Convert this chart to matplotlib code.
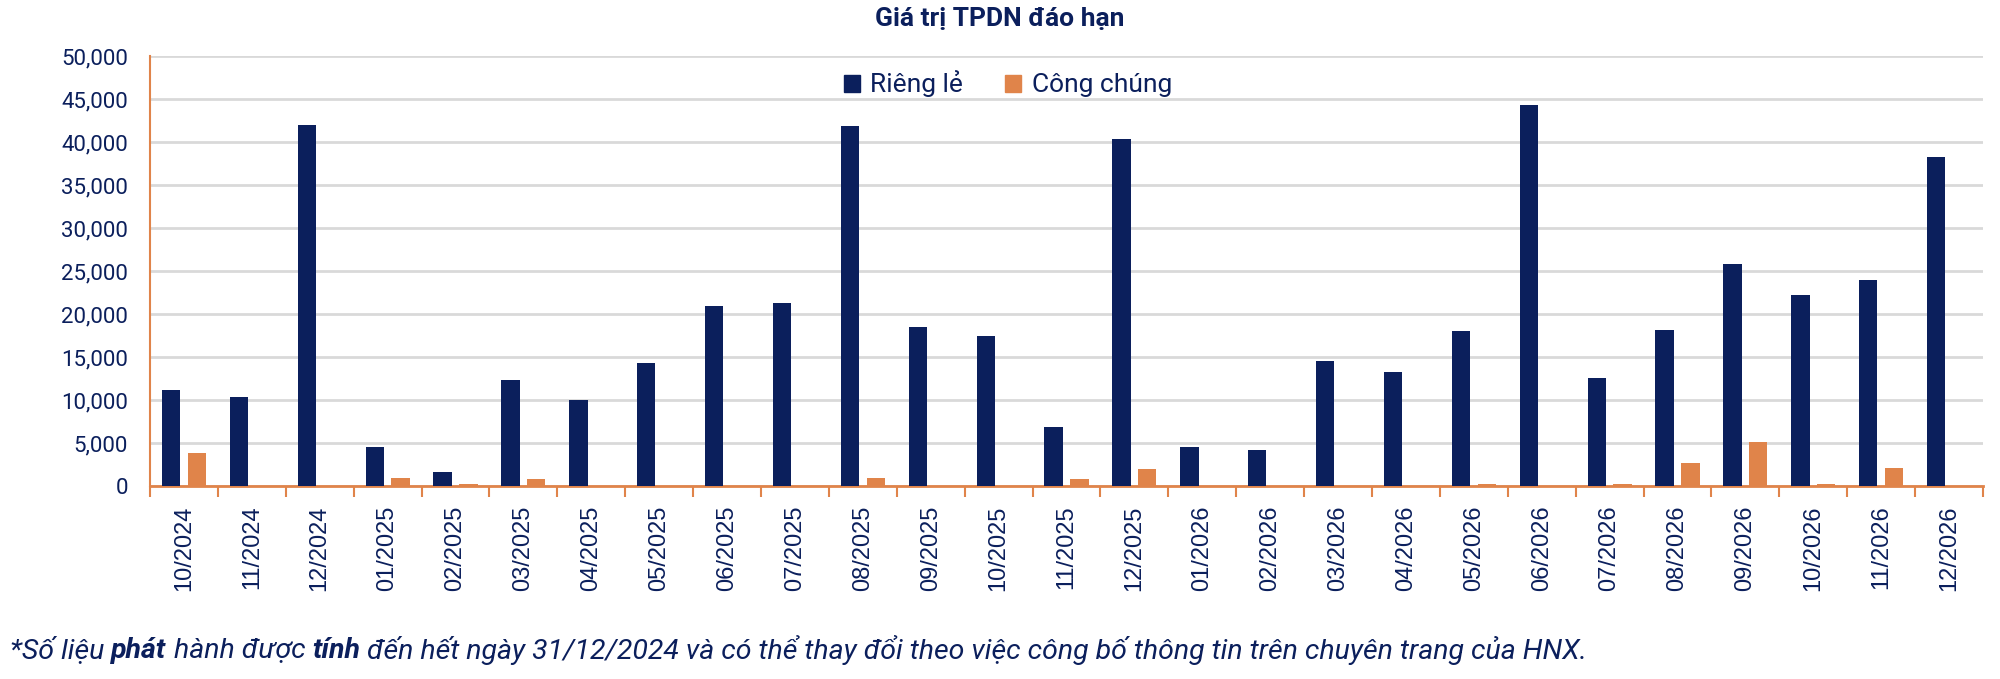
import matplotlib
matplotlib.use("Agg")
import matplotlib.pyplot as plt
import matplotlib.patches as mpatches
from matplotlib.ticker import FuncFormatter, MultipleLocator
import numpy as np

# data (ty dong)
months = ["10/2024", "11/2024", "12/2024", "01/2025", "02/2025", "03/2025",
          "04/2025", "05/2025", "06/2025", "07/2025", "08/2025", "09/2025",
          "10/2025", "11/2025", "12/2025", "01/2026", "02/2026", "03/2026",
          "04/2026", "05/2026", "06/2026", "07/2026", "08/2026", "09/2026",
          "10/2026", "11/2026", "12/2026"]
rieng_le = [11200, 10400, 42000, 4600, 1700, 12300, 10000, 14300, 20900,
            21300, 41900, 18500, 17500, 6900, 40300, 4500, 4250, 14500,
            13300, 18000, 44300, 12600, 18100, 25850, 22200, 24000, 38300]
cong_chung = [3800, 0, 0, 900, 200, 800, 0, 0, 0, 0, 950, 0, 0, 850, 1950,
              0, 0, 0, 0, 230, 0, 230, 2700, 5150, 230, 2080, 0]
y_ticks = list(range(0, 50001, 5000))

NAVY = "#0B1F5C"
ORANGE = "#E0844A"
TXT = "#0B1F5C"


def main():
    fig = plt.figure(figsize=(20, 6.79), dpi=100)
    ax = fig.add_axes([0.075, 0.284, 0.9165, 0.6335])

    x = np.arange(len(months))
    w = 0.27
    ax.bar(x - 0.19, rieng_le, width=w, color=NAVY, zorder=3)
    ax.bar(x + 0.19, cong_chung, width=w, color=ORANGE, zorder=3)

    ax.set_xlim(-0.5, len(months) - 0.5)
    ax.set_ylim(0, 50000)
    ax.set_yticks(y_ticks)
    ax.yaxis.set_major_formatter(FuncFormatter(lambda v, p: f"{int(v):,}"))
    ax.grid(axis="y", color="#D9D9D9", linewidth=2, zorder=0)

    for s in ["top", "right"]:
        ax.spines[s].set_visible(False)
    ax.spines["left"].set_color(ORANGE)
    ax.spines["bottom"].set_color(ORANGE)
    ax.spines["left"].set_linewidth(1.5)
    ax.spines["bottom"].set_linewidth(2)

    ax.set_xticks(x)
    ax.set_xticklabels(months, rotation=90, fontsize=17,
                       family="Liberation Sans", color=TXT, va="top")
    ax.xaxis.set_minor_locator(MultipleLocator(1, offset=0.5))
    ax.tick_params(axis="x", which="major", length=0, pad=14)
    ax.tick_params(axis="x", which="minor", length=8, width=1.5,
                   color=ORANGE, direction="out")
    ax.tick_params(axis="y", length=0, pad=16, labelsize=16, labelcolor=TXT)
    for lab in ax.get_yticklabels():
        lab.set_family("Roboto")

    handles = [mpatches.Patch(color=NAVY, label="Riêng lẻ"),
               mpatches.Patch(color=ORANGE, label="Công chúng")]
    ax.legend(handles=handles, loc="center", bbox_to_anchor=(0.468, 0.935),
              ncol=2, frameon=False, prop={"family": "Roboto", "size": 19},
              labelcolor=TXT, handlelength=0.6, handleheight=0.6,
              handletextpad=0.4, columnspacing=1.6)

    fig.text(0.5, 1 - 19 / 679, "Giá trị TPDN đáo hạn", ha="center",
             va="center", fontsize=19, fontweight="bold", family="Roboto",
             color=TXT)

    # footnote with a couple of bolder words
    parts = [("*Số liệu ", "normal"), ("phát", "semibold"),
             (" hành được ", "normal"), ("tính", "semibold"),
             (" đến hết ngày 31/12/2024 và có thể thay đổi theo việc công bố "
              "thông tin trên chuyên trang của HNX.", "normal")]
    texts = []
    for txt, wt in parts:
        texts.append(fig.text(0.005, 1 - 650 / 679, txt, fontsize=20.5,
                              style="italic", fontweight=wt, family="Roboto",
                              color=TXT, va="center"))
    fig.canvas.draw()
    r = fig.canvas.get_renderer()
    x0 = texts[0].get_window_extent(r).x1
    y0 = texts[0].get_position()[1]
    for t in texts[1:]:
        t.set_position((x0 / fig.bbox.width, y0))
        x0 = t.get_window_extent(r).x1

    fig.savefig("out.png", dpi=100, facecolor="white")


if __name__ == "__main__":
    main()
